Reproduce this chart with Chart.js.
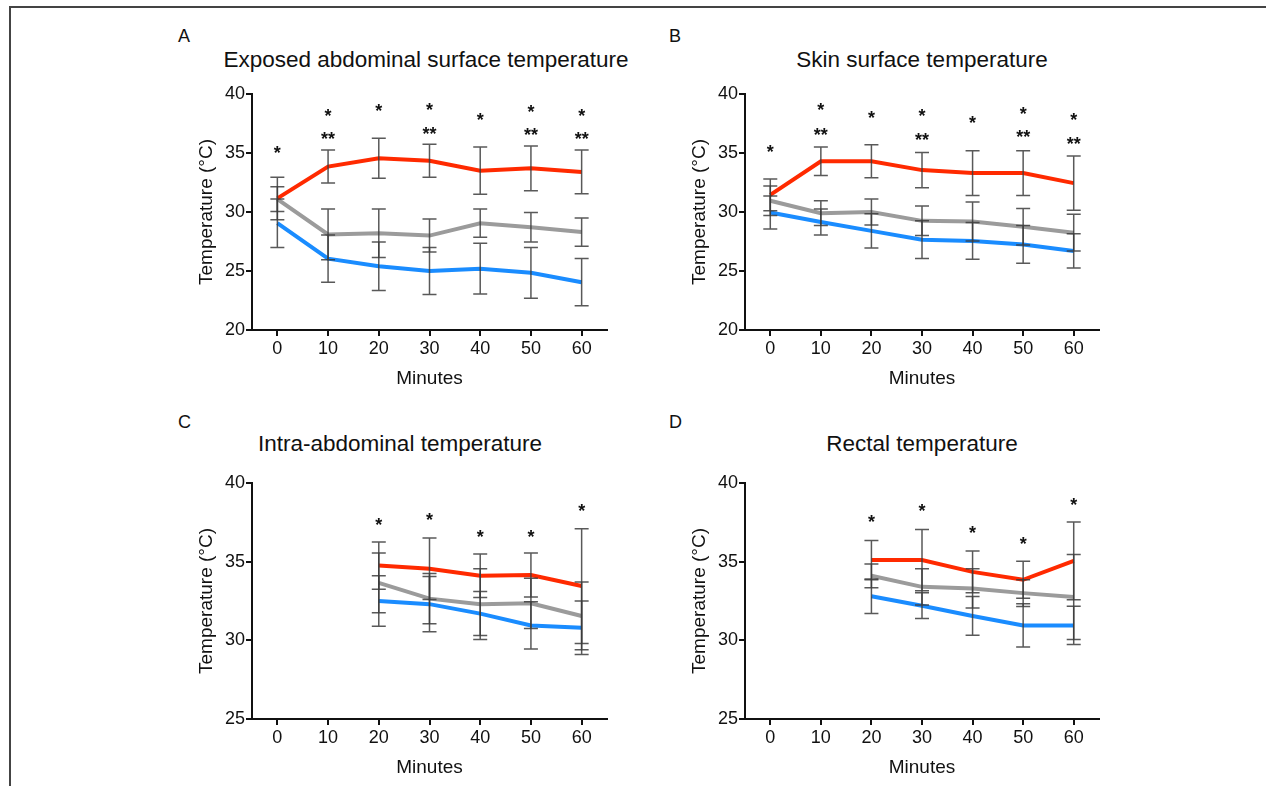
<!DOCTYPE html>
<html lang="en">
<head>
<meta charset="UTF-8">
<title>Temperature over time</title>
<script src="https://cdn.jsdelivr.net/npm/chart.js"></script>
<style>
  body { margin: 0; background: #fff; font-family: "Liberation Sans", Arial, sans-serif; color: #111; }
  #page { position: relative; width: 1266px; height: 786px; overflow: hidden; }
  #frame { position: absolute; left: 9px; top: 6px; width: 1300px; height: 800px; border-left: 2px solid #444; border-top: 2px solid #444; }
  canvas { position: absolute; }
  .letter { position: absolute; font-size: 18px; line-height: 18px; }
  .title { position: absolute; font-size: 22.5px; line-height: 24px; white-space: nowrap; transform: translateX(-50%); }
</style>
</head>
<body>
<div id="page">
  <div id="frame"></div>

  <div class="letter" style="left:178px; top:27px;">A</div>
  <div class="title" style="left:426px; top:48px;">Exposed abdominal surface temperature</div>
  <canvas id="chartA"></canvas>

  <div class="letter" style="left:669px; top:27px;">B</div>
  <div class="title" style="left:922px; top:48px;">Skin surface temperature</div>
  <canvas id="chartB"></canvas>

  <div class="letter" style="left:178px; top:413px;">C</div>
  <div class="title" style="left:400px; top:432px;">Intra-abdominal temperature</div>
  <canvas id="chartC"></canvas>

  <div class="letter" style="left:669px; top:413px;">D</div>
  <div class="title" style="left:922px; top:432px;">Rectal temperature</div>
  <canvas id="chartD"></canvas>
</div>

<script>
    // time points (minutes)
    const minutes = [0, 10, 20, 30, 40, 50, 60];
    const lateMinutes = [20, 30, 40, 50, 60];
    const xTicks = [0, 10, 20, 30, 40, 50, 60];
    const yTicksTop = [20, 25, 30, 35, 40];
    const yTicksBottom = [25, 30, 35, 40];

    // A - exposed abdominal surface
    const aRed = [31.15, 33.85, 34.55, 34.35, 33.5, 33.7, 33.4];
    const aRedSd = [1.8, 1.4, 1.7, 1.4, 2.0, 1.9, 1.85];
    const aGray = [31.1, 28.1, 28.2, 28.0, 29.05, 28.7, 28.3];
    const aGraySd = [1.05, 2.15, 2.05, 1.4, 1.2, 1.25, 1.2];
    const aBlue = [29.05, 26.05, 25.4, 25.0, 25.2, 24.85, 24.05];
    const aBlueSd = [2.05, 2.0, 2.05, 2.0, 2.15, 2.15, 2.0];
    const aStarX = [0, 10, 10, 20, 30, 30, 40, 50, 50, 60, 60];
    const aStarY = [35.35, 38.5, 36.55, 38.9, 38.95, 36.95, 38.1, 38.8, 36.85, 38.5, 36.55];
    const aStarText = ['*', '*', '**', '*', '*', '**', '*', '*', '**', '*', '**'];

    // B - skin surface
    const bRed = [31.45, 34.3, 34.3, 33.55, 33.3, 33.3, 32.45];
    const bRedSd = [1.35, 1.2, 1.4, 1.5, 1.9, 1.9, 2.3];
    const bGray = [30.95, 29.9, 30.0, 29.25, 29.2, 28.75, 28.25];
    const bGraySd = [1.25, 1.05, 1.1, 1.25, 1.65, 1.55, 1.55];
    const bBlue = [29.95, 29.15, 28.4, 27.65, 27.55, 27.25, 26.7];
    const bBlueSd = [1.4, 1.1, 1.45, 1.6, 1.55, 1.6, 1.45];
    const bStarX = [0, 10, 10, 20, 30, 30, 40, 50, 50, 60, 60];
    const bStarY = [35.4, 38.95, 36.9, 38.3, 38.45, 36.4, 37.9, 38.65, 36.7, 38.15, 36.1];
    const bStarText = ['*', '*', '**', '*', '*', '**', '*', '*', '**', '*', '**'];

    // C - intra-abdominal
    const cRed = [34.75, 34.55, 34.1, 34.15, 33.45];
    const cRedSd = [1.5, 1.95, 1.38, 1.4, 3.65];
    const cGray = [33.65, 32.65, 32.3, 32.35, 31.55];
    const cGraySd = [1.9, 1.6, 2.25, 1.6, 2.15];
    const cBlue = [32.5, 32.3, 31.7, 30.95, 30.8];
    const cBlueSd = [1.6, 1.75, 1.4, 1.5, 1.7];
    const cStarX = [20, 30, 40, 50, 60];
    const cStarY = [37.6, 37.9, 36.8, 36.8, 38.5];
    const cStarText = ['*', '*', '*', '*', '*'];

    // D - rectal
    const dRed = [35.1, 35.1, 34.35, 33.85, 35.05];
    const dRedSd = [1.25, 1.95, 1.33, 1.17, 2.47];
    const dGray = [34.1, 33.4, 33.3, 33.0, 32.75];
    const dGraySd = [0.75, 1.15, 1.25, 0.85, 2.7];
    const dBlue = [32.8, 32.2, 31.55, 30.95, 30.95];
    const dBlueSd = [1.1, 0.82, 1.23, 1.38, 1.22];
    const dStarX = [20, 30, 40, 50, 60];
    const dStarY = [37.8, 38.5, 37.05, 36.4, 38.85];
    const dStarText = ['*', '*', '*', '*', '*'];

    const RED = '#ff2a00';
    const GRAY = '#9b9b9b';
    const BLUE = '#1a8cff';
    const FONT = '"Liberation Sans", Arial, sans-serif';

    const toPoints = (xs, ys) => xs.map((x, i) => ({ x: x, y: ys[i] }));

    function makePanel(id, box, xs, series, stars, yMin, yMax, yTicks) {
        const canvas = document.getElementById(id);
        const left = box.left - 100, top = box.top - 20;
        const w = box.right + 20 - left, h = box.bottom + 72 - top;
        canvas.width = w; canvas.height = h;
        canvas.style.left = left + 'px';
        canvas.style.top = top + 'px';

        // error bars + asterisks drawn through the chart's scales
        const extras = {
            id: 'extras',
            afterDatasetsDraw(chart) {
                const { ctx, scales: { x, y } } = chart;
                ctx.save();
                ctx.strokeStyle = 'rgba(60,60,60,0.85)';
                ctx.lineWidth = 1.5;
                series.forEach(s => {
                    s.mean.forEach((m, i) => {
                        const px = x.getPixelForValue(xs[i]);
                        const hi = y.getPixelForValue(m + s.sd[i]);
                        const lo = y.getPixelForValue(m - s.sd[i]);
                        ctx.beginPath();
                        ctx.moveTo(px, hi); ctx.lineTo(px, lo);
                        ctx.moveTo(px - 7, hi); ctx.lineTo(px + 7, hi);
                        ctx.moveTo(px - 7, lo); ctx.lineTo(px + 7, lo);
                        ctx.stroke();
                    });
                });
                ctx.fillStyle = '#111';
                ctx.font = 'bold 18px ' + FONT;
                ctx.textAlign = 'center';
                ctx.textBaseline = 'alphabetic';
                stars.x.forEach((sx, i) => {
                    ctx.fillText(stars.text[i], x.getPixelForValue(sx), y.getPixelForValue(stars.y[i]) + 10);
                });
                ctx.restore();
            }
        };

        return new Chart(canvas, {
            type: 'line',
            data: {
                datasets: series.map(s => ({
                    data: toPoints(xs, s.mean),
                    borderColor: s.color,
                    borderWidth: 4,
                    pointRadius: 0,
                    tension: 0,
                    fill: false
                }))
            },
            options: {
                responsive: false,
                animation: false,
                layout: { padding: { top: 20, right: 20, left: 0, bottom: 0 } },
                plugins: { legend: { display: false }, tooltip: { enabled: false } },
                scales: {
                    x: {
                        type: 'linear', min: -5, max: 65,
                        afterBuildTicks: s => { s.ticks = xTicks.map(v => ({ value: v })); },
                        afterFit: s => { s.height = 72; },
                        border: { color: '#111', width: 2 },
                        grid: { drawOnChartArea: false, color: '#111', lineWidth: 2, tickLength: 6 },
                        ticks: { color: '#111', padding: 2, font: { family: FONT, size: 18 } },
                        title: { display: true, text: 'Minutes', color: '#111', padding: { top: 0, bottom: 12 }, font: { family: FONT, size: 19 } }
                    },
                    y: {
                        min: yMin, max: yMax,
                        afterBuildTicks: s => { s.ticks = yTicks.map(v => ({ value: v })); },
                        afterFit: s => { s.width = 100; },
                        border: { color: '#111', width: 2 },
                        grid: { drawOnChartArea: false, color: '#111', lineWidth: 2, tickLength: 6 },
                        ticks: { color: '#111', padding: 1, font: { family: FONT, size: 18 } },
                        title: { display: true, text: 'Temperature (°C)', color: '#111', padding: { top: 43, bottom: 0 }, font: { family: FONT, size: 19 } }
                    }
                }
            },
            plugins: [extras]
        });
    }

    makePanel('chartA', { left: 252, right: 607, top: 94, bottom: 330 }, minutes,
        [{ mean: aRed, sd: aRedSd, color: RED }, { mean: aGray, sd: aGraySd, color: GRAY }, { mean: aBlue, sd: aBlueSd, color: BLUE }],
        { x: aStarX, y: aStarY, text: aStarText }, 20, 40, yTicksTop);

    makePanel('chartB', { left: 745, right: 1099, top: 94, bottom: 330 }, minutes,
        [{ mean: bRed, sd: bRedSd, color: RED }, { mean: bGray, sd: bGraySd, color: GRAY }, { mean: bBlue, sd: bBlueSd, color: BLUE }],
        { x: bStarX, y: bStarY, text: bStarText }, 20, 40, yTicksTop);

    makePanel('chartC', { left: 252, right: 607, top: 483, bottom: 719 }, lateMinutes,
        [{ mean: cRed, sd: cRedSd, color: RED }, { mean: cGray, sd: cGraySd, color: GRAY }, { mean: cBlue, sd: cBlueSd, color: BLUE }],
        { x: cStarX, y: cStarY, text: cStarText }, 25, 40, yTicksBottom);

    makePanel('chartD', { left: 745, right: 1099, top: 483, bottom: 719 }, lateMinutes,
        [{ mean: dRed, sd: dRedSd, color: RED }, { mean: dGray, sd: dGraySd, color: GRAY }, { mean: dBlue, sd: dBlueSd, color: BLUE }],
        { x: dStarX, y: dStarY, text: dStarText }, 25, 40, yTicksBottom);
</script>
</body>
</html>
